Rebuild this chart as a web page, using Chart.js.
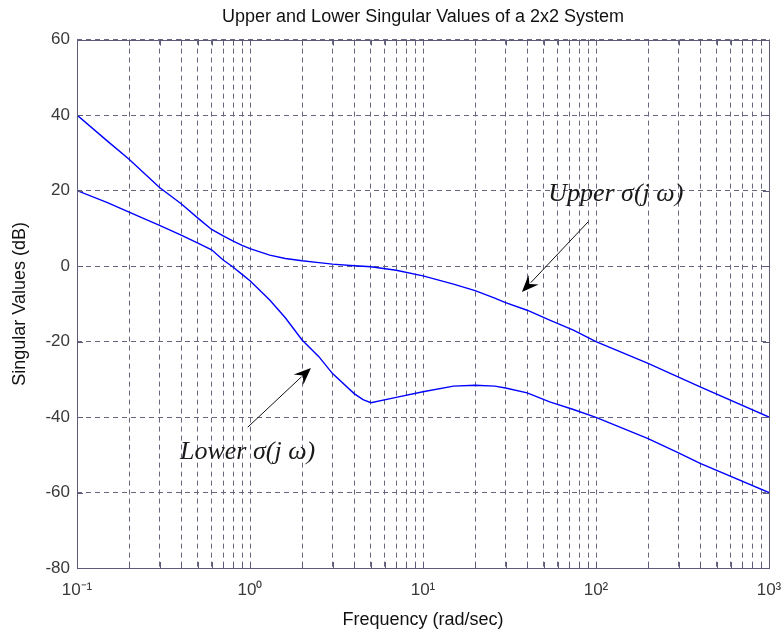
<!DOCTYPE html>
<html>
<head>
<meta charset="utf-8">
<script src="https://cdn.jsdelivr.net/npm/chart.js@4.4.1/dist/chart.umd.min.js"></script>
<style>
  html, body { margin: 0; padding: 0; background: #fff; }
  #wrap { width: 782px; height: 632px; }
</style>
</head>
<body>
<div id="wrap"><canvas id="c" width="782" height="632"></canvas></div>
<script>
// ---- data ----
const frequency = [0.1, 0.15, 0.2, 0.3, 0.4, 0.5, 0.6, 0.7, 0.8, 0.9, 1, 1.3, 1.6, 2, 2.5, 3, 4, 4.5, 5, 7, 10, 15, 20, 26, 30, 40, 54, 74, 100, 200, 300, 400, 1000];
const upperSV = [40, 33.1, 28.3, 20.8, 16.5, 12.7, 9.7, 8, 6.6, 5.5, 4.6, 2.9, 2.0, 1.4, 0.9, 0.5, 0.1, -0.05, -0.2, -1.1, -2.6, -4.8, -6.5, -8.5, -9.7, -11.7, -14.3, -17, -20, -25.8, -29.4, -32, -40];
const lowerSV = [20, 16.8, 14.3, 10.8, 8.2, 6.1, 4.3, 1.6, -0.3, -2.2, -3.9, -9, -13.7, -19.6, -24, -28.5, -33.8, -35.4, -36.2, -34.8, -33.3, -31.8, -31.6, -31.8, -32.3, -33.6, -36, -38, -40.1, -45.7, -49.5, -52.3, -60];

// ---- tick labels ----
const xDecades = [0.1, 1, 10, 100, 1000];
const xDecadeLabels = ['10\u207B\u00B9', '10\u2070', '10\u00B9', '10\u00B2', '10\u00B3'];
const xMinorMultipliers = [2, 3, 4, 5, 6, 7, 8, 9];
const yTicks = [-80, -60, -40, -20, 0, 20, 40, 60];

// ---- annotations (data coordinates) ----
const upperLabel = { text: 'Upper \u03C3(j \u03C9)', x: 52.9, y: 17.3 };
const upperArrow = { from: [90, 11.7], to: [37.3, -6.9] };
const lowerLabel = { text: 'Lower \u03C3(j \u03C9)', x: 0.394, y: -51 };
const lowerArrow = { from: [0.97, -42.7], to: [2.25, -27] };

const xTickValues = [];
xDecades.forEach((d, i) => {
  xTickValues.push(d);
  if (i < xDecades.length - 1) xMinorMultipliers.forEach(m => xTickValues.push(+(d * m).toPrecision(6)));
});

const gridColor = '#66667f';
const boxColor = '#5c5c7a';

const decorPlugin = {
  id: 'decor',
  afterDatasetsDraw(chart) {
    const { ctx, chartArea: a, scales: { x, y } } = chart;
    ctx.save();
    ctx.strokeStyle = boxColor;
    ctx.lineWidth = 1;
    ctx.setLineDash([]);
    ctx.strokeRect(Math.round(a.left) + 0.5, Math.round(a.top) + 0.5, Math.round(a.right - a.left), Math.round(a.bottom - a.top));
    ctx.beginPath();
    xTickValues.forEach(v => {
      const px = Math.round(x.getPixelForValue(v)) + 0.5;
      ctx.moveTo(px, a.bottom); ctx.lineTo(px, a.bottom - 6);
      ctx.moveTo(px, a.top); ctx.lineTo(px, a.top + 6);
    });
    yTicks.forEach(v => {
      const py = Math.round(y.getPixelForValue(v)) + 0.5;
      ctx.moveTo(a.left, py); ctx.lineTo(a.left + 6, py);
      ctx.moveTo(a.right, py); ctx.lineTo(a.right - 6, py);
    });
    ctx.stroke();

    ctx.fillStyle = '#1a1a1a';
    ctx.font = 'italic 26px "Liberation Serif", "DejaVu Serif", serif';
    ctx.textBaseline = 'alphabetic';
    ctx.textAlign = 'left';
    [upperLabel, lowerLabel].forEach(l => {
      ctx.fillText(l.text, x.getPixelForValue(l.x), y.getPixelForValue(l.y));
    });
    [upperArrow, lowerArrow].forEach(ar => {
      const x0 = x.getPixelForValue(ar.from[0]), y0 = y.getPixelForValue(ar.from[1]);
      const x1 = x.getPixelForValue(ar.to[0]), y1 = y.getPixelForValue(ar.to[1]);
      const ang = Math.atan2(y1 - y0, x1 - x0);
      const L = 17, W = 7;
      ctx.strokeStyle = '#111';
      ctx.lineWidth = 1;
      ctx.beginPath();
      ctx.moveTo(x0, y0);
      ctx.lineTo(x1 - Math.cos(ang) * (L - 4), y1 - Math.sin(ang) * (L - 4));
      ctx.stroke();
      const bx = x1 - Math.cos(ang) * L, by = y1 - Math.sin(ang) * L;
      const nx = -Math.sin(ang), ny = Math.cos(ang);
      const mx = x1 - Math.cos(ang) * (L - 6), my = y1 - Math.sin(ang) * (L - 6);
      ctx.fillStyle = '#000';
      ctx.beginPath();
      ctx.moveTo(x1, y1);
      ctx.lineTo(bx + nx * W, by + ny * W);
      ctx.lineTo(mx, my);
      ctx.lineTo(bx - nx * W, by - ny * W);
      ctx.closePath();
      ctx.fill();
    });
    ctx.restore();
  }
};

const fontFamily = '"Liberation Sans", Arial, sans-serif';

new Chart(document.getElementById('c'), {
  type: 'line',
  data: {
    datasets: [
      { label: 'Upper', data: frequency.map((f, i) => ({ x: f, y: upperSV[i] })), borderColor: '#0000ff', borderWidth: 1.4, pointRadius: 0, tension: 0, fill: false },
      { label: 'Lower', data: frequency.map((f, i) => ({ x: f, y: lowerSV[i] })), borderColor: '#0000ff', borderWidth: 1.4, pointRadius: 0, tension: 0, fill: false }
    ]
  },
  options: {
    responsive: false,
    animation: false,
    devicePixelRatio: 1,
    layout: { padding: { left: 0, right: 13, top: 0, bottom: 0 } },
    plugins: {
      legend: { display: false },
      tooltip: { enabled: false },
      title: {
        display: true,
        fullSize: false,
        text: 'Upper and Lower Singular Values of a 2x2 System',
        color: '#111',
        font: { family: fontFamily, size: 18, weight: 'normal' },
        padding: { top: 6, bottom: 12 }
      }
    },
    scales: {
      x: {
        type: 'logarithmic',
        min: 0.1,
        max: 1000,
        afterBuildTicks: (s) => { s.ticks = xTickValues.map(v => ({ value: v })); },
        afterFit: (s) => { s.height = 64; s.paddingLeft = 0; s.paddingRight = 0; },
        ticks: {
          autoSkip: false,
          maxRotation: 0,
          color: '#3a3a3a',
          font: { family: fontFamily, size: 17 },
          padding: 12,
          callback: (v) => { const i = xDecades.indexOf(v); return i >= 0 ? xDecadeLabels[i] : ''; }
        },
        grid: { color: gridColor, lineWidth: 1, drawTicks: false },
        border: { display: false, dash: [5, 4] },
        title: { display: true, text: 'Frequency (rad/sec)', color: '#111', font: { family: fontFamily, size: 18 }, padding: { top: 4, bottom: 1 } }
      },
      y: {
        min: -80,
        max: 60,
        afterBuildTicks: (s) => { s.ticks = yTicks.map(v => ({ value: v })); },
        afterFit: (s) => { s.width = 77; s.paddingTop = 0; s.paddingBottom = 0; },
        ticks: { color: '#3a3a3a', font: { family: fontFamily, size: 17 }, padding: 7 },
        grid: { color: gridColor, lineWidth: 1, drawTicks: false },
        border: { display: false, dash: [5, 4] },
        title: { display: true, text: 'Singular Values (dB)', color: '#111', font: { family: fontFamily, size: 18 }, padding: { top: 9, bottom: 2 } }
      }
    }
  },
  plugins: [decorPlugin]
});
</script>
</body>
</html>
